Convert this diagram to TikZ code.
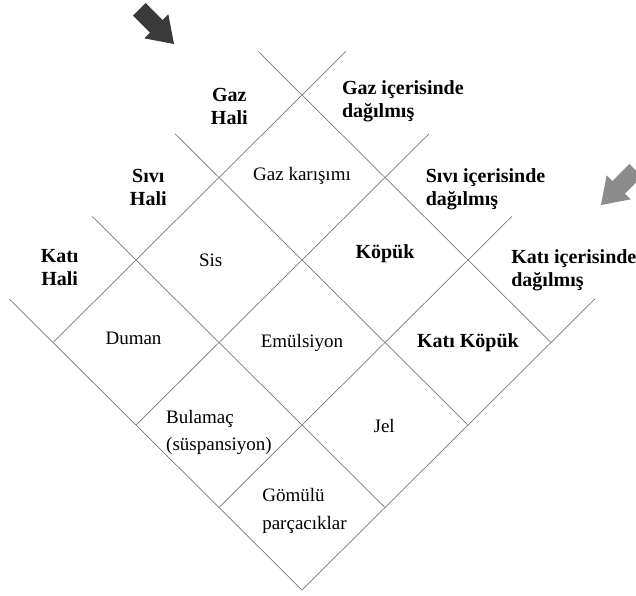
\documentclass[tikz,border=0pt]{standalone}
\usepackage{fontspec}
\setmainfont{Liberation Serif}
\usetikzlibrary{positioning}
\definecolor{gridgray}{RGB}{120,120,120}
\definecolor{arrowdark}{RGB}{58,58,58}
\definecolor{arrowlight}{RGB}{140,140,140}

\begin{document}
\begin{tikzpicture}[
  x=1pt, y=1pt,
  gridline/.style={draw=gridgray, line width=0.7pt},
  rowhead/.style={font=\fontsize{20}{23}\selectfont\bfseries, align=center},
  colhead/.style={font=\fontsize{20}{23}\selectfont\bfseries, align=left, anchor=west, inner sep=0pt},
  cell/.style={font=\fontsize{19}{27.5}\selectfont, align=center},
  boldcell/.style={cell, font=\fontsize{20}{23}\selectfont\bfseries},
  blockarrow/.pic={\fill (-49,9) -- (-25,9) -- (-25,17) -- (0,0) -- (-25,-17) -- (-25,-9) -- (-49,-9) -- cycle;}
]
\clip (0,0) rectangle (636,595);

% the two pointers
\pic[fill=arrowdark, rotate=-45] at (174,551) {blockarrow};
\pic[fill=arrowlight, rotate=225] at (601,390) {blockarrow};

% diagonal grid: first axis = state (down-left), second = medium (down-right)
\begin{scope}[shift={(302,500)}, x={(-83pt,-82.5pt)}, y={(83pt,-82.5pt)}]
  \foreach \k in {0,...,3} {
    \draw[gridline] (\k,-0.53) -- (\k,3);
    \draw[gridline] (3,\k) -- (-0.53,\k);
  }

  % states
  \node[rowhead] (gazhali) at (0.506,-0.37) {Gaz\\Hali};
  \node[rowhead] (sivihali) at (1.485,-0.367) {Sıvı\\Hali};
  \node[rowhead] (katihali) at (2.506,-0.414) {Katı\\Hali};

  % media
  \node[colhead] (gazic) at (-0.2,0.28) {Gaz içerisinde\\dağılmış};
  \node[colhead] (siviic) at (-0.176,1.314) {Sıvı içerisinde\\dağılmış};
  \node[colhead] (katiic) at (-0.198,2.322) {Katı içerisinde\\dağılmış};

  % cells
  \node[cell] (gazkarisimi) at (0.49,0.49) {Gaz karışımı};
  \node[cell] (sis) at (1.55,0.45) {Sis};
  \node[boldcell] (kopuk) at (0.46,1.46) {Köpük};
  \node[cell] (duman) at (2.49,0.46) {Duman};
  \node[cell] (emulsiyon) at (1.5,1.5) {Emülsiyon};
  \node[boldcell] (katikopuk) at (0.5,2.5) {Katı Köpük};
  \node[cell, align=left] (bulamac) at (2.544,1.544) {Bulamaç\\(süspansiyon)};
  \node[cell] (jel) at (1.51,2.5) {Jel};
  \node[cell, align=left] (gomulu) at (2.507,2.537) {Gömülü\\parçacıklar};
\end{scope}
\end{tikzpicture}
\end{document}
